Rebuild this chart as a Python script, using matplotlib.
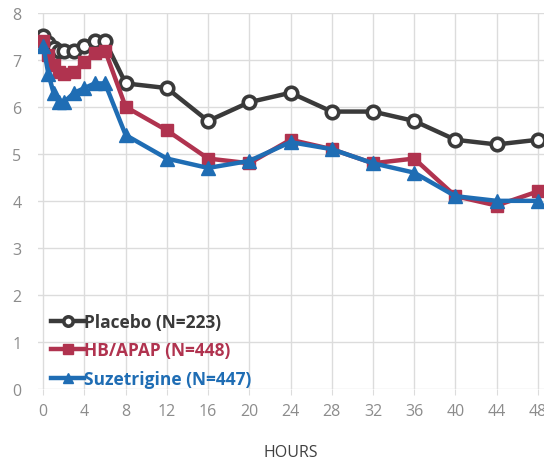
import matplotlib
matplotlib.use("Agg")
from matplotlib import pyplot as plt

hours = [0, 0.5, 1, 1.5, 2, 3, 4, 5, 6, 8, 12, 16, 20, 24, 28, 32, 36, 40, 44, 48]

placebo = [7.5, 7.35, 7.25, 7.2, 7.2, 7.2, 7.3, 7.4, 7.4, 6.5,
           6.4, 5.7, 6.1, 6.3, 5.9, 5.9, 5.7, 5.3, 5.2, 5.3]
placebo_err = [0.12] * len(hours)
hb_apap = [7.4, 7.1, 6.9, 6.75, 6.7, 6.75, 6.95, 7.15, 7.2, 6.0,
           5.5, 4.9, 4.8, 5.3, 5.1, 4.8, 4.9, 4.1, 3.9, 4.2]
suzetrigine = [7.3, 6.7, 6.3, 6.1, 6.1, 6.3, 6.4, 6.5, 6.5, 5.4,
               4.9, 4.7, 4.85, 5.25, 5.1, 4.8, 4.6, 4.1, 4.0, 4.0]

labels = ["Placebo (N=223)", "HB/APAP (N=448)", "Suzetrigine (N=447)"]
colors = ["#3a3a3a", "#b0334f", "#1f6db4"]
x_ticks = list(range(0, 49, 4))

plt.rcParams["font.family"] = ["Open Sans", "DejaVu Sans"]

fig = plt.figure(figsize=(5.44, 4.64), dpi=100)
ax = fig.add_axes([0.07, 0.16, 0.93, 0.81])

# placebo with small error bars
ax.errorbar(hours, placebo, yerr=placebo_err, color="#7f7f7f", fmt="none",
            elinewidth=1, capsize=3, zorder=2)
h0, = ax.plot(hours, placebo, color=colors[0], linewidth=3.2, marker="o", markersize=9,
              markerfacecolor="white", markeredgecolor=colors[0], markeredgewidth=2.6,
              label=labels[0], zorder=3)
h1, = ax.plot(hours, hb_apap, color=colors[1], linewidth=3.2, marker="s", markersize=9,
              label=labels[1], zorder=4)
h2, = ax.plot(hours, suzetrigine, color=colors[2], linewidth=3.2, marker="^", markersize=10,
              label=labels[2], zorder=5)

ax.set_xlim(-0.5, 48.6)
ax.set_ylim(0, 8)
ax.set_xticks(x_ticks)
ax.set_yticks(range(0, 9))
ax.grid(True, color="#dcdcdc", linewidth=1)
ax.set_axisbelow(True)
for s in ax.spines.values():
    s.set_visible(False)
ax.tick_params(axis="x", colors="#dcdcdc", labelcolor="#8c8c8c", labelsize=11.5, length=4, pad=6)
ax.tick_params(axis="y", length=0, labelcolor="#8c8c8c", labelsize=11.5, pad=12)

ax.set_xlabel("HOURS", fontsize=11.5, color="#404040", labelpad=18)

leg = ax.legend(handles=[h0, h1, h2], loc="lower left", bbox_to_anchor=(0.005, -0.025),
                frameon=False, handlelength=1.9, handletextpad=0.0, borderaxespad=0.2,
                labelspacing=0.6, markerscale=0.75,
                prop={"weight": "bold", "size": 12.5})
for text, c in zip(leg.get_texts(), colors):
    text.set_color(c)

fig.savefig("out.png", dpi=100)
